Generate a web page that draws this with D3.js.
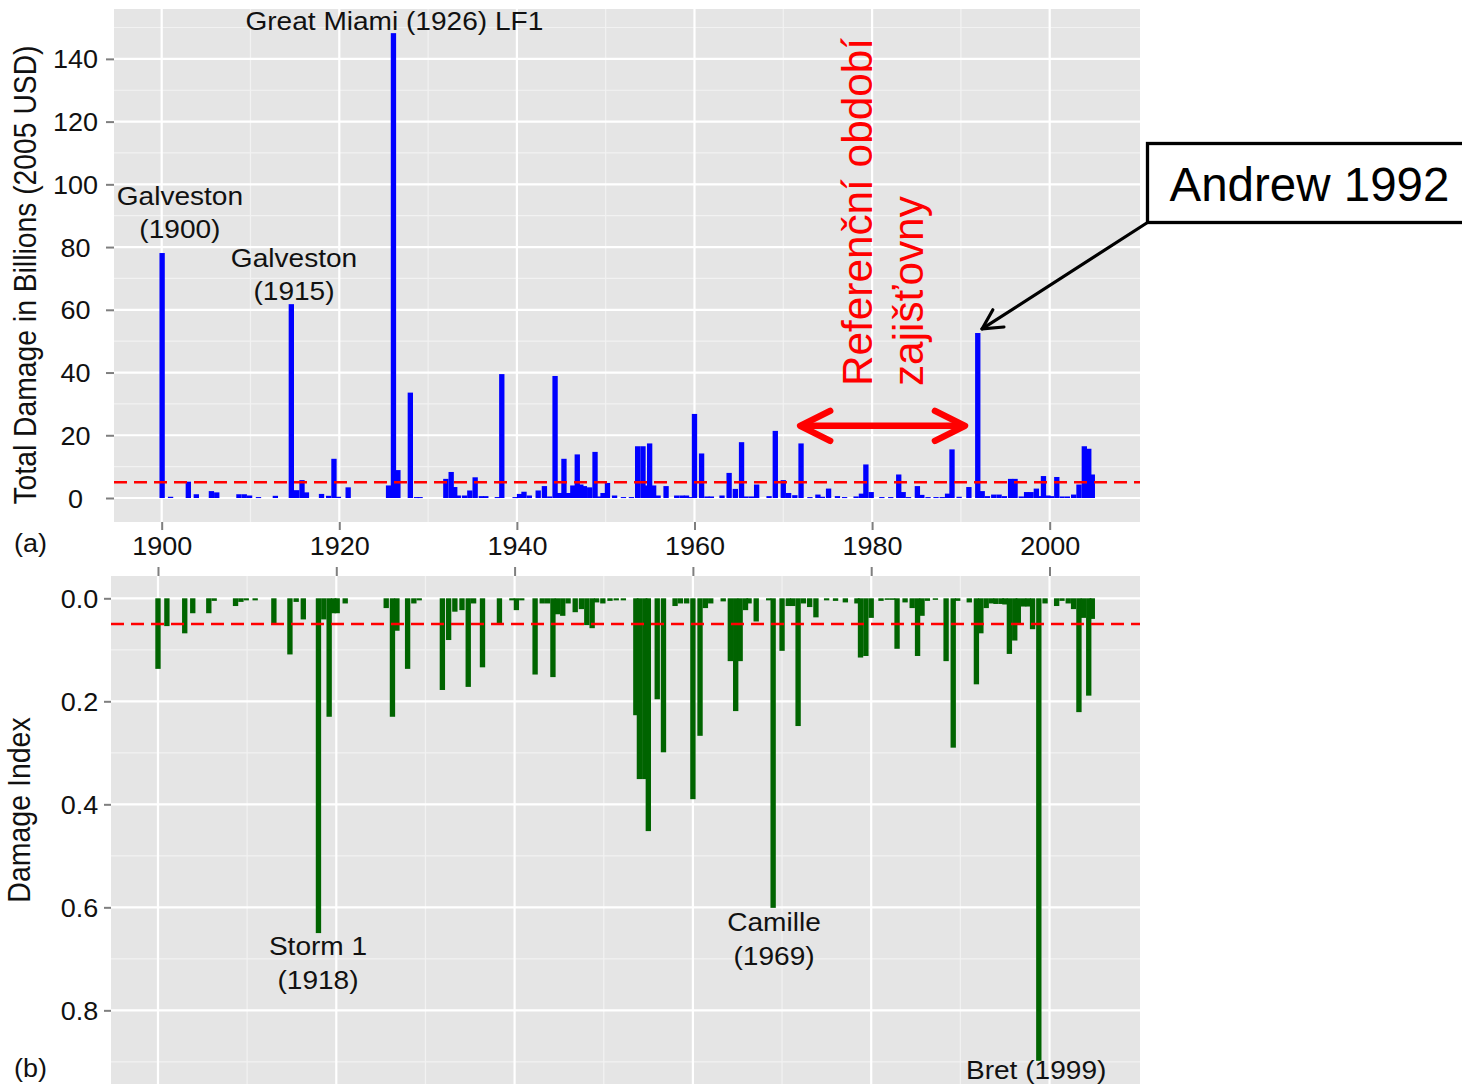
<!DOCTYPE html>
<html>
<head>
<meta charset="utf-8">
<script src="https://cdn.jsdelivr.net/npm/d3@7"></script>
<style>
  html, body { margin: 0; padding: 0; background: #ffffff; }
  svg { display: block; font-family: "Liberation Sans", Arial, sans-serif; }
</style>
</head>
<body>
<svg id="chart" width="1462" height="1086"></svg>
<script>
// (a) normalized storm losses, billions of 2005 USD, by fractional landfall year
const stormYear = [
  1900.05, 1901.0, 1903.0, 1903.9, 1905.6, 1906.2, 1908.7, 1909.3, 1909.9, 1910.9,
  1912.8, 1914.6, 1915.2, 1915.8, 1916.3, 1918.0, 1918.8, 1919.4, 1919.9, 1921.0,
  1925.55, 1926.1, 1926.6, 1928.0, 1928.7, 1929.1, 1932.0, 1932.6, 1933.0, 1933.4,
  1934.1, 1934.7, 1935.3, 1936.0, 1936.5, 1937.8, 1938.3, 1939.8, 1940.3, 1940.8,
  1941.4, 1942.4, 1943.1, 1943.7, 1944.3, 1944.8, 1945.3, 1945.8, 1946.3, 1946.8,
  1947.2, 1947.6, 1948.2, 1948.8, 1949.3, 1949.7, 1950.2, 1951.0, 1952.0, 1952.9,
  1953.6, 1954.2, 1954.6, 1954.95, 1955.4, 1955.9, 1956.8, 1958.0, 1958.6, 1959.1,
  1959.5, 1960.0, 1960.8, 1961.4, 1961.9, 1963.1, 1963.9, 1964.6, 1965.3, 1965.8,
  1966.4, 1967.0, 1968.4, 1969.1, 1970.0, 1970.6, 1971.3, 1972.0, 1973.0, 1973.9,
  1974.4, 1975.1, 1976.1, 1976.9, 1978.2, 1978.8, 1979.3, 1979.9, 1981.1, 1982.1,
  1983.0, 1983.5, 1984.1, 1985.1, 1985.6, 1986.3, 1987.2, 1987.9, 1988.5, 1989.0,
  1989.8, 1990.9, 1991.9, 1992.4, 1993.0, 1993.7, 1994.3, 1994.9, 1995.6, 1996.1,
  1996.8, 1997.4, 1997.9, 1998.5, 1998.9, 1999.3, 1999.8, 2000.2, 2000.8, 2001.4,
  2002.0, 2002.7, 2003.3, 2003.9, 2004.4, 2004.8
];
const stormDamage = [
  78.1, 0.4, 5.2, 1.2, 2.2, 1.8, 1.2, 1.2, 0.8, 0.3,
  0.7, 61.8, 2.5, 5.7, 1.8, 1.3, 0.7, 12.5, 0.4, 3.4,
  4.0, 148.2, 8.9, 33.6, 0.3, 0.3, 6.1, 8.3, 3.5, 0.8,
  0.8, 2.4, 6.6, 0.6, 0.6, 0.3, 39.5, 0.3, 1.3, 2.0,
  0.8, 2.4, 3.8, 0.5, 38.9, 1.6, 12.5, 1.6, 4.0, 13.9,
  4.3, 3.8, 3.4, 14.7, 0.5, 1.6, 4.8, 0.8, 0.3, 0.3,
  16.5, 16.5, 4.0, 17.4, 4.0, 0.8, 3.8, 0.8, 0.8, 0.8,
  0.3, 26.8, 14.2, 0.5, 0.5, 0.8, 8.0, 2.9, 17.8, 0.5,
  0.5, 4.3, 0.6, 21.4, 5.7, 1.6, 0.9, 17.4, 0.3, 1.1,
  0.4, 3.0, 0.6, 0.3, 0.5, 1.4, 10.7, 1.9, 0.3, 0.3,
  7.5, 1.9, 0.3, 3.8, 1.0, 0.3, 0.3, 0.3, 1.4, 15.5,
  0.4, 3.5, 52.6, 2.2, 0.6, 1.1, 1.1, 0.6, 6.1, 6.1,
  0.5, 1.9, 1.9, 3.0, 0.6, 7.0, 0.8, 0.6, 6.7, 0.5,
  0.5, 1.1, 4.3, 16.5, 15.7, 7.5
];

// (b) damage index per storm
const indexYear = [
  1900.0, 1901.0, 1903.0, 1903.9, 1905.7, 1906.3, 1908.7, 1909.3, 1909.9, 1910.9,
  1913.0, 1914.8, 1915.5, 1916.3, 1918.0, 1918.6, 1919.2, 1919.7, 1920.1, 1921.0,
  1925.6, 1926.3, 1926.8, 1928.0, 1928.7, 1929.3, 1931.9, 1932.6, 1933.3, 1934.1,
  1934.8, 1935.4, 1936.4, 1938.3, 1939.7, 1940.2, 1940.8, 1942.3, 1943.1, 1943.7,
  1944.3, 1944.8, 1945.4, 1946.0, 1946.8, 1947.5, 1948.1, 1948.7, 1949.2, 1949.9,
  1950.7, 1951.4, 1952.2, 1953.6, 1954.0, 1954.6, 1955.0, 1956.0, 1956.7, 1958.0,
  1958.6, 1959.3, 1960.0, 1960.8, 1961.4, 1962.0, 1963.4, 1964.2, 1964.8, 1965.3,
  1965.9, 1966.3, 1967.1, 1968.5, 1969.0, 1970.0, 1970.7, 1971.2, 1971.8, 1972.4,
  1973.1, 1973.8, 1975.0, 1976.0, 1977.1, 1978.4, 1978.8, 1979.4, 1980.0, 1981.1,
  1981.8, 1982.4, 1982.9, 1983.8, 1984.6, 1985.2, 1985.7, 1986.3, 1987.2, 1988.4,
  1989.2, 1989.7, 1991.0, 1991.8, 1992.3, 1992.9, 1993.5, 1994.0, 1994.6, 1995.0,
  1995.5, 1996.1, 1996.5, 1997.1, 1997.6, 1998.1, 1998.8, 1999.5, 2000.8, 2001.4,
  2002.1, 2002.7, 2003.3, 2003.8, 2004.4, 2004.8
];
const indexValue = [
  0.137, 0.054, 0.068, 0.029, 0.029, 0.005, 0.015, 0.007, 0.004, 0.004,
  0.050, 0.109, 0.007, 0.041, 0.650, 0.041, 0.230, 0.029, 0.029, 0.010,
  0.019, 0.230, 0.063, 0.137, 0.010, 0.004, 0.178, 0.081, 0.026, 0.023,
  0.172, 0.010, 0.134, 0.050, 0.004, 0.023, 0.004, 0.148, 0.010, 0.010,
  0.153, 0.031, 0.034, 0.010, 0.027, 0.021, 0.052, 0.058, 0.008, 0.010,
  0.005, 0.004, 0.004, 0.227, 0.351, 0.351, 0.452, 0.196, 0.299, 0.015,
  0.010, 0.010, 0.390, 0.267, 0.019, 0.010, 0.006, 0.122, 0.219, 0.122,
  0.023, 0.010, 0.045, 0.004, 0.601, 0.102, 0.015, 0.015, 0.248, 0.010,
  0.017, 0.037, 0.004, 0.005, 0.008, 0.010, 0.115, 0.112, 0.038, 0.005,
  0.003, 0.003, 0.098, 0.008, 0.019, 0.112, 0.034, 0.005, 0.003, 0.122,
  0.290, 0.005, 0.008, 0.167, 0.068, 0.019, 0.010, 0.011, 0.011, 0.012,
  0.108, 0.082, 0.049, 0.016, 0.016, 0.060, 0.898, 0.010, 0.015, 0.005,
  0.010, 0.021, 0.221, 0.038, 0.189, 0.040
];

// axis breaks and labels
const yearTicks = [1900, 1920, 1940, 1960, 1980, 2000];
const yearMinor = [1910, 1930, 1950, 1970, 1990];
const damageTicks = [0, 20, 40, 60, 80, 100, 120, 140];
const damageMinor = [10, 30, 50, 70, 90, 110, 130, 150];
const indexTicks = [0, 0.2, 0.4, 0.6, 0.8];
const indexTickLabels = ["0.0", "0.2", "0.4", "0.6", "0.8"];
const indexMinor = [0.1, 0.3, 0.5, 0.7, 0.9];

// reference levels (dashed)
const damageThreshold = 5;
const indexThreshold = 0.05;

// named storms: text lines, anchor year, anchor value (first baseline)
const damageNoteLines = [["Great Miami (1926) LF1"], ["Galveston", "(1900)"], ["Galveston", "(1915)"]];
const damageNoteYear = [1926.2, 1902.05, 1914.9];
const damageNoteValue = [149.2, 93.4, 73.6];
const indexNoteLines = [["Storm 1", "(1918)"], ["Camille", "(1969)"], ["Bret (1999)"]];
const indexNoteYear = [1917.95, 1969.1, 1998.5];
const indexNoteValue = [0.692, 0.646, 0.934];

// reinsurer reference period and Andrew callout
const refPeriod = [1971.9, 1990.46];
const refArrowValue = 23;
const refTitle = ["Referenční období", "zajišťovny"];
const refTitleYear = [1979.97, 1985.77];
const refTitleValue = 35.7;
const andrewLabel = "Andrew 1992";
const andrewPoint = [1992.38, 53.9];

const barHalf = 0.3; // bar half-width in years
const stretch = 1.08; // horizontal widening of the lettering

const svg = d3.select("#chart");
const defs = svg.append("defs");

const panelBg = "#E5E5E5";
const minorGrid = "#F2F2F2";
const tickGrey = "#7F7F7F";
const textCol = "#111111";

// horizontal text, widened about its anchor point
function hText(parent, x, y, lines, size, opts = {}) {
  const g = parent.append("g").attr("transform", `translate(${x},${y}) scale(${stretch},1)`);
  const t = g.append("text").attr("text-anchor", opts.anchor || "middle")
    .attr("font-size", size).attr("fill", opts.fill || textCol);
  lines.forEach((s, j) => t.append("tspan").attr("x", 0).attr("y", j * (opts.lead || 33)).text(s));
  return g;
}
// vertical text reading bottom-to-top, glyphs widened across the line
function vText(parent, x, y, str, size, opts = {}) {
  return parent.append("text")
    .attr("transform", `translate(${x},${y}) rotate(-90) scale(1,${opts.across || stretch})`)
    .attr("text-anchor", opts.anchor || "middle").attr("font-size", size)
    .attr("fill", opts.fill || textCol).text(str);
}
// leftOffset: distance from the axis line to the centre of the tick labels
function styleAxis(g, leftOffset) {
  g.select(".domain").remove();
  g.selectAll(".tick line").attr("stroke", tickGrey).attr("stroke-width", 2);
  const tx = g.selectAll(".tick text").attr("fill", textCol).attr("font-size", 25)
    .attr("font-family", "Liberation Sans, Arial, sans-serif")
    .attr("transform", `scale(${stretch},1)`);
  if (leftOffset) tx.attr("text-anchor", "middle").attr("x", -leftOffset / stretch).attr("dy", "0.36em");
}

// ---------- panel (a) ----------
const A = { left: 114, right: 1140, top: 9, bottom: 522 };
const xA = d3.scaleLinear().domain([1894.63, 2010.17]).range([A.left, A.right]);
const yA = d3.scaleLinear().domain([-7.65, 155.9]).range([A.bottom, A.top]);

defs.append("clipPath").attr("id", "clipA").append("rect")
  .attr("x", A.left).attr("y", A.top).attr("width", A.right - A.left).attr("height", A.bottom - A.top);

const gA = svg.append("g");
gA.append("rect").attr("x", A.left).attr("y", A.top)
  .attr("width", A.right - A.left).attr("height", A.bottom - A.top).attr("fill", panelBg);

const gridA = gA.append("g");
gridA.selectAll(".hmin").data(damageMinor.filter(v => v < 155.9)).join("line")
  .attr("x1", A.left).attr("x2", A.right).attr("y1", d => yA(d)).attr("y2", d => yA(d))
  .attr("stroke", minorGrid).attr("stroke-width", 1.2);
gridA.selectAll(".vmin").data(yearMinor).join("line")
  .attr("y1", A.top).attr("y2", A.bottom).attr("x1", d => xA(d)).attr("x2", d => xA(d))
  .attr("stroke", minorGrid).attr("stroke-width", 1.2);
gridA.selectAll(".hmaj").data(damageTicks).join("line")
  .attr("x1", A.left).attr("x2", A.right).attr("y1", d => yA(d)).attr("y2", d => yA(d))
  .attr("stroke", "#ffffff").attr("stroke-width", 2.2);
gridA.selectAll(".vmaj").data(yearTicks).join("line")
  .attr("y1", A.top).attr("y2", A.bottom).attr("x1", d => xA(d)).attr("x2", d => xA(d))
  .attr("stroke", "#ffffff").attr("stroke-width", 2.2);

gA.append("g").attr("clip-path", "url(#clipA)")
  .selectAll("rect").data(d3.range(stormYear.length)).join("rect")
  .attr("x", i => xA(stormYear[i] - barHalf))
  .attr("width", i => xA(stormYear[i] + barHalf) - xA(stormYear[i] - barHalf))
  .attr("y", i => yA(stormDamage[i]))
  .attr("height", i => Math.max(1, yA(0) - yA(stormDamage[i])))
  .attr("fill", "#0000FF");

gA.append("line")
  .attr("x1", A.left).attr("x2", A.right)
  .attr("y1", yA(damageThreshold)).attr("y2", yA(damageThreshold))
  .attr("stroke", "#FF0000").attr("stroke-width", 2.6).attr("stroke-dasharray", "13,7");

// axes of (a)
const gyA = svg.append("g").attr("transform", `translate(${A.left},0)`)
  .call(d3.axisLeft(yA).tickValues(damageTicks).tickSize(8).tickPadding(6));
styleAxis(gyA, 38.5);
const gxA = svg.append("g").attr("transform", `translate(0,${A.bottom})`)
  .call(d3.axisBottom(xA).tickValues(yearTicks).tickFormat(d3.format("d")).tickSize(8).tickPadding(7));
styleAxis(gxA, 0);

vText(svg, 36, 275, "Total Damage in Billions (2005 USD)", 28.3);
hText(svg, 14, 552, ["(a)"], 25, { anchor: "start" });

// storm names in (a)
damageNoteLines.forEach((lines, i) => {
  hText(gA, xA(damageNoteYear[i]), yA(damageNoteValue[i]), lines, 26, { lead: 33 });
});

// reference period arrow and title
const red = "#FF0000";
const ax1 = xA(refPeriod[0]), ax2 = xA(refPeriod[1]), ay = yA(refArrowValue);
const gRef = svg.append("g").attr("stroke", red).attr("stroke-width", 6.5)
  .attr("stroke-linecap", "round").attr("stroke-linejoin", "round").attr("fill", "none");
gRef.append("line").attr("x1", ax1 + 2).attr("x2", ax2 - 2).attr("y1", ay).attr("y2", ay);
gRef.append("polyline").attr("points", `${ax1 + 30},${ay - 15} ${ax1},${ay} ${ax1 + 30},${ay + 15}`);
gRef.append("polyline").attr("points", `${ax2 - 30},${ay - 15} ${ax2},${ay} ${ax2 - 30},${ay + 15}`);

refTitle.forEach((s, i) => {
  vText(svg, xA(refTitleYear[i]), yA(refTitleValue), s, 42.3, { anchor: "start", fill: red, across: 1 });
});

// Andrew callout box and pointer
const boxL = 1147.5, boxT = 143.5, boxB = 222.5;
svg.append("rect").attr("x", boxL).attr("y", boxT).attr("width", 340).attr("height", boxB - boxT)
  .attr("fill", "#ffffff").attr("stroke", "#000000").attr("stroke-width", 3.3);
svg.append("text").attr("x", boxL + 22).attr("y", boxT + 57.5)
  .attr("font-size", 47.5).attr("fill", "#000000").text(andrewLabel);

const tipX = xA(andrewPoint[0]), tipY = yA(andrewPoint[1]);
const ang = Math.atan2(tipY - boxB, tipX - boxL);
const headLen = 22, headAng = Math.PI / 6.5;
const gAr = svg.append("g").attr("stroke", "#000").attr("stroke-width", 3.2).attr("fill", "none")
  .attr("stroke-linecap", "round").attr("stroke-linejoin", "round");
gAr.append("line").attr("x1", boxL).attr("y1", boxB).attr("x2", tipX).attr("y2", tipY);
gAr.append("polyline").attr("points", [
  [tipX - headLen * Math.cos(ang - headAng), tipY - headLen * Math.sin(ang - headAng)],
  [tipX, tipY],
  [tipX - headLen * Math.cos(ang + headAng), tipY - headLen * Math.sin(ang + headAng)]
].map(p => p.join(",")).join(" "));

// ---------- panel (b) ----------
const B = { left: 111, right: 1140, top: 576, bottom: 1084 };
const xB = d3.scaleLinear().domain([1894.73, 2010.15]).range([B.left, B.right]);
const yB = d3.scaleLinear().domain([-0.0433, 0.943]).range([B.top, B.bottom]);

defs.append("clipPath").attr("id", "clipB").append("rect")
  .attr("x", B.left).attr("y", B.top).attr("width", B.right - B.left).attr("height", B.bottom - B.top);

const gB = svg.append("g");
gB.append("rect").attr("x", B.left).attr("y", B.top)
  .attr("width", B.right - B.left).attr("height", B.bottom - B.top).attr("fill", panelBg);

const gridB = gB.append("g");
gridB.selectAll(".hmin").data(indexMinor).join("line")
  .attr("x1", B.left).attr("x2", B.right).attr("y1", d => yB(d)).attr("y2", d => yB(d))
  .attr("stroke", minorGrid).attr("stroke-width", 1.2);
gridB.selectAll(".vmin").data(yearMinor).join("line")
  .attr("y1", B.top).attr("y2", B.bottom).attr("x1", d => xB(d)).attr("x2", d => xB(d))
  .attr("stroke", minorGrid).attr("stroke-width", 1.2);
gridB.selectAll(".hmaj").data(indexTicks).join("line")
  .attr("x1", B.left).attr("x2", B.right).attr("y1", d => yB(d)).attr("y2", d => yB(d))
  .attr("stroke", "#ffffff").attr("stroke-width", 2.2);
gridB.selectAll(".vmaj").data(yearTicks).join("line")
  .attr("y1", B.top).attr("y2", B.bottom).attr("x1", d => xB(d)).attr("x2", d => xB(d))
  .attr("stroke", "#ffffff").attr("stroke-width", 2.2);

gB.append("g").attr("clip-path", "url(#clipB)")
  .selectAll("rect").data(d3.range(indexYear.length)).join("rect")
  .attr("x", i => xB(indexYear[i] - barHalf))
  .attr("width", i => xB(indexYear[i] + barHalf) - xB(indexYear[i] - barHalf))
  .attr("y", yB(0))
  .attr("height", i => Math.max(1, yB(indexValue[i]) - yB(0)))
  .attr("fill", "#006400");

gB.append("line")
  .attr("x1", B.left).attr("x2", B.right)
  .attr("y1", yB(indexThreshold)).attr("y2", yB(indexThreshold))
  .attr("stroke", "#FF0000").attr("stroke-width", 2.6).attr("stroke-dasharray", "13,7");

const gyB = svg.append("g").attr("transform", `translate(${B.left},0)`)
  .call(d3.axisLeft(yB).tickValues(indexTicks).tickFormat((d, i) => indexTickLabels[i]).tickSize(7).tickPadding(6));
styleAxis(gyB, 31.5);
const gxB = svg.append("g").attr("transform", `translate(0,${B.top})`)
  .call(d3.axisTop(xB).tickValues(yearTicks).tickFormat("").tickSize(9));
styleAxis(gxB, 0);

vText(svg, 30, yB(0.411), "Damage Index", 28.5);
hText(svg, 14, 1077, ["(b)"], 25, { anchor: "start" });

indexNoteLines.forEach((lines, i) => {
  hText(gB, xB(indexNoteYear[i]), yB(indexNoteValue[i]), lines, 26, { lead: 34 });
});
</script>
</body>
</html>
